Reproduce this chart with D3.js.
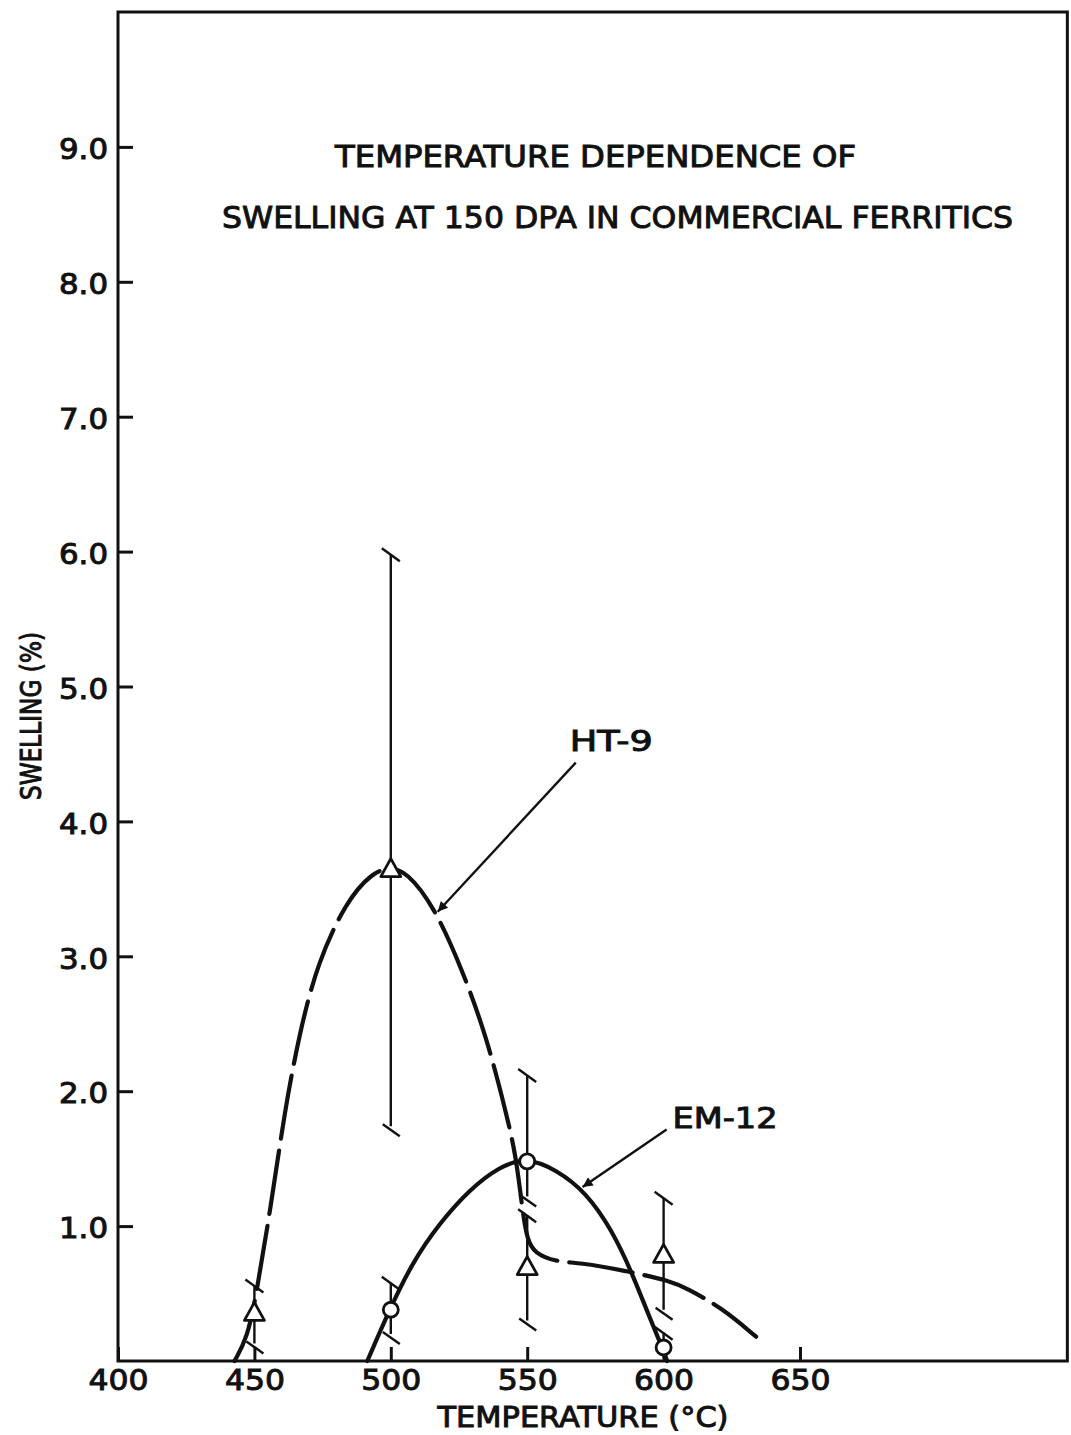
<!DOCTYPE html>
<html>
<head>
<meta charset="utf-8">
<script src="https://cdn.jsdelivr.net/npm/d3@7"></script>
<style>
  body { margin: 0; background: #fff; }
  text { font-family: "DejaVu Sans", sans-serif; fill: #111; stroke: #111; stroke-width: 1px; }
</style>
</head>
<body>
<svg id="chart" width="1071" height="1435"></svg>
<script>
// Axis tick values
const xTicks = [400, 450, 500, 550, 600, 650];
const yTicks = [1, 2, 3, 4, 5, 6, 7, 8, 9];

// HT-9 measurements (triangles): temperature (°C), swelling (%), error range
const ht9Temp  = [450, 500, 550, 600];
const ht9Swell = [0.36, 3.65, 0.70, 0.79];
const ht9Low   = [0.13, 1.74, 0.30, 0.38];
const ht9High  = [0.56, 5.98, 1.08, 1.21];

// EM-12 measurements (circles)
const em12Temp  = [500, 550, 600];
const em12Swell = [0.38, 1.48, 0.10];
const em12Low   = [0.20, 1.22, 0.02];
const em12High  = [0.58, 2.12, 0.21];

// Hand-drawn trend curves
const ht9CurveT = [442.7, 447.4, 450.7, 456.6, 461.0, 466.5, 473.1, 483.7, 493.2, 499.5, 505.7, 515.9, 526.2, 535.0, 542.3, 546.0, 548.2, 550.0, 552.6, 560.6, 569.0, 586.0, 603.1, 608.2, 621.0, 633.9];
const ht9CurveS = [0.00, 0.17, 0.49, 1.22, 1.84, 2.43, 2.95, 3.41, 3.62, 3.66, 3.63, 3.37, 2.90, 2.41, 1.84, 1.51, 1.12, 0.90, 0.80, 0.735, 0.73, 0.67, 0.59, 0.54, 0.40, 0.18];
const em12CurveT = [491.4, 499.5, 507.9, 517.8, 528.8, 539.7, 549.6, 560.6, 571.6, 581.1, 588.5, 594.7, 599.5, 601.3];
const em12CurveS = [0.00, 0.38, 0.73, 1.02, 1.27, 1.44, 1.51, 1.42, 1.25, 0.97, 0.65, 0.33, 0.10, 0.00];

// Curve labels with arrow [labelT, labelS, arrowFromT, arrowFromS, arrowToT, arrowToS]
const labelNames = ["HT-9", "EM-12"];
const labelAnchors = [
  [565.6, 4.52, 567.8, 4.48, 517.2, 3.33],
  [603.3, 1.73, 601.1, 1.76, 570.3, 1.29]
];

const xFrameMax = 748;
const yFrameMax = 10;

const svg = d3.select("#chart");
const x = d3.scaleLinear().domain([400, 650]).range([118, 800]);
const y = d3.scaleLinear().domain([0, 10]).range([1361, 12]);

// Plot frame
svg.append("rect")
  .attr("x", x(400)).attr("y", y(yFrameMax))
  .attr("width", x(xFrameMax) - x(400)).attr("height", y(0) - y(yFrameMax))
  .attr("fill", "none").attr("stroke", "#111").attr("stroke-width", 3);

// Axes: inward ticks, labels outside
const yAxis = svg.append("g").attr("transform", `translate(${x(400)},0)`)
  .call(d3.axisLeft(y).tickValues(yTicks).tickSize(-15).tickPadding(10).tickFormat(d3.format(".1f")));
yAxis.select(".domain").remove();
yAxis.selectAll(".tick line").attr("stroke", "#111").attr("stroke-width", 3);
yAxis.selectAll(".tick text").attr("font-size", 28).attr("dy", "0.42em")
  .attr("textLength", 49).attr("lengthAdjust", "spacingAndGlyphs")
  .style("font-family", '"DejaVu Sans", sans-serif');

const xAxis = svg.append("g").attr("transform", `translate(0,${y(0)})`)
  .call(d3.axisBottom(x).tickValues(xTicks).tickSize(-14).tickPadding(8).tickFormat(d3.format("d")));
xAxis.select(".domain").remove();
xAxis.selectAll(".tick line").attr("stroke", "#111").attr("stroke-width", 3);
xAxis.selectAll(".tick text").attr("font-size", 29)
  .attr("textLength", 60).attr("lengthAdjust", "spacingAndGlyphs")
  .style("font-family", '"DejaVu Sans", sans-serif');

// Axis titles
svg.append("text").attr("x", 583).attr("y", 1427).attr("text-anchor", "middle")
  .attr("font-size", 29).attr("textLength", 291).attr("lengthAdjust", "spacingAndGlyphs")
  .text("TEMPERATURE (°C)");
svg.append("text").attr("transform", "translate(41,716) rotate(-90)").attr("text-anchor", "middle")
  .attr("font-size", 28).attr("textLength", 168).attr("lengthAdjust", "spacingAndGlyphs")
  .text("SWELLING (%)");

// Chart title
svg.append("text").attr("x", 335).attr("y", 167).attr("font-size", 30)
  .attr("textLength", 521).attr("lengthAdjust", "spacingAndGlyphs")
  .text("TEMPERATURE DEPENDENCE OF");
svg.append("text").attr("x", 222).attr("y", 228).attr("font-size", 31)
  .attr("textLength", 791).attr("lengthAdjust", "spacingAndGlyphs")
  .text("SWELLING AT 150 DPA IN COMMERCIAL FERRITICS");

// Trend curves
const line = d3.line().x(d => x(d[0])).y(d => y(d[1])).curve(d3.curveBasis);
svg.append("path")
  .datum(d3.zip(ht9CurveT, ht9CurveS))
  .attr("d", line).attr("fill", "none").attr("stroke", "#111")
  .attr("stroke-width", 4.2).attr("stroke-dasharray", "64,12").attr("stroke-linecap", "round");
svg.append("path")
  .datum(d3.zip(em12CurveT, em12CurveS))
  .attr("d", line).attr("fill", "none").attr("stroke", "#111")
  .attr("stroke-width", 4.2).attr("stroke-linecap", "round");

// Error bars with slanted caps
function errorBars(temps, lows, highs) {
  const g = svg.append("g").attr("stroke", "#111").attr("stroke-width", 2.4).attr("fill", "none");
  temps.forEach((t, i) => {
    const cx = x(t), y0 = y(lows[i]), y1 = y(highs[i]);
    g.append("line").attr("x1", cx).attr("x2", cx).attr("y1", y0).attr("y2", y1);
    g.append("line").attr("x1", cx - 9).attr("x2", cx + 9).attr("y1", y1 - 6).attr("y2", y1 + 7);
    if (lows[i] > 0.05)
      g.append("line").attr("x1", cx - 8).attr("x2", cx + 9).attr("y1", y0 - 2).attr("y2", y0 + 10);
  });
}
errorBars(ht9Temp, ht9Low, ht9High);
errorBars(em12Temp, em12Low, em12High);

// Markers
svg.append("g").selectAll("path")
  .data(d3.zip(ht9Temp, ht9Swell))
  .join("path")
  .attr("d", d => `M${x(d[0])},${y(d[1]) - 10} L${x(d[0]) + 10},${y(d[1]) + 8} L${x(d[0]) - 10},${y(d[1]) + 8} Z`)
  .attr("fill", "#fff").attr("stroke", "#111").attr("stroke-width", 2.8).attr("stroke-linejoin", "round");
svg.append("g").selectAll("circle")
  .data(d3.zip(em12Temp, em12Swell))
  .join("circle")
  .attr("cx", d => x(d[0])).attr("cy", d => y(d[1])).attr("r", 7.5)
  .attr("fill", "#fff").attr("stroke", "#111").attr("stroke-width", 2.8);

// Curve labels and pointer arrows
svg.append("defs").append("marker")
  .attr("id", "arrowhead").attr("viewBox", "0 0 10 10").attr("refX", 10).attr("refY", 5)
  .attr("markerWidth", 20).attr("markerHeight", 10).attr("markerUnits", "userSpaceOnUse")
  .attr("orient", "auto")
  .append("path").attr("d", "M0,0 L10,5 L0,10 Z").attr("fill", "#111");

labelNames.forEach((name, i) => {
  const a = labelAnchors[i];
  svg.append("text").attr("x", x(a[0])).attr("y", y(a[1])).attr("font-size", 29)
    .attr("textLength", name === "HT-9" ? 83 : 105).attr("lengthAdjust", "spacingAndGlyphs")
    .text(name);
  svg.append("line")
    .attr("x1", x(a[2])).attr("y1", y(a[3]) + 6).attr("x2", x(a[4])).attr("y2", y(a[5]))
    .attr("stroke", "#111").attr("stroke-width", 2.4).attr("marker-end", "url(#arrowhead)");
});
</script>
</body>
</html>
